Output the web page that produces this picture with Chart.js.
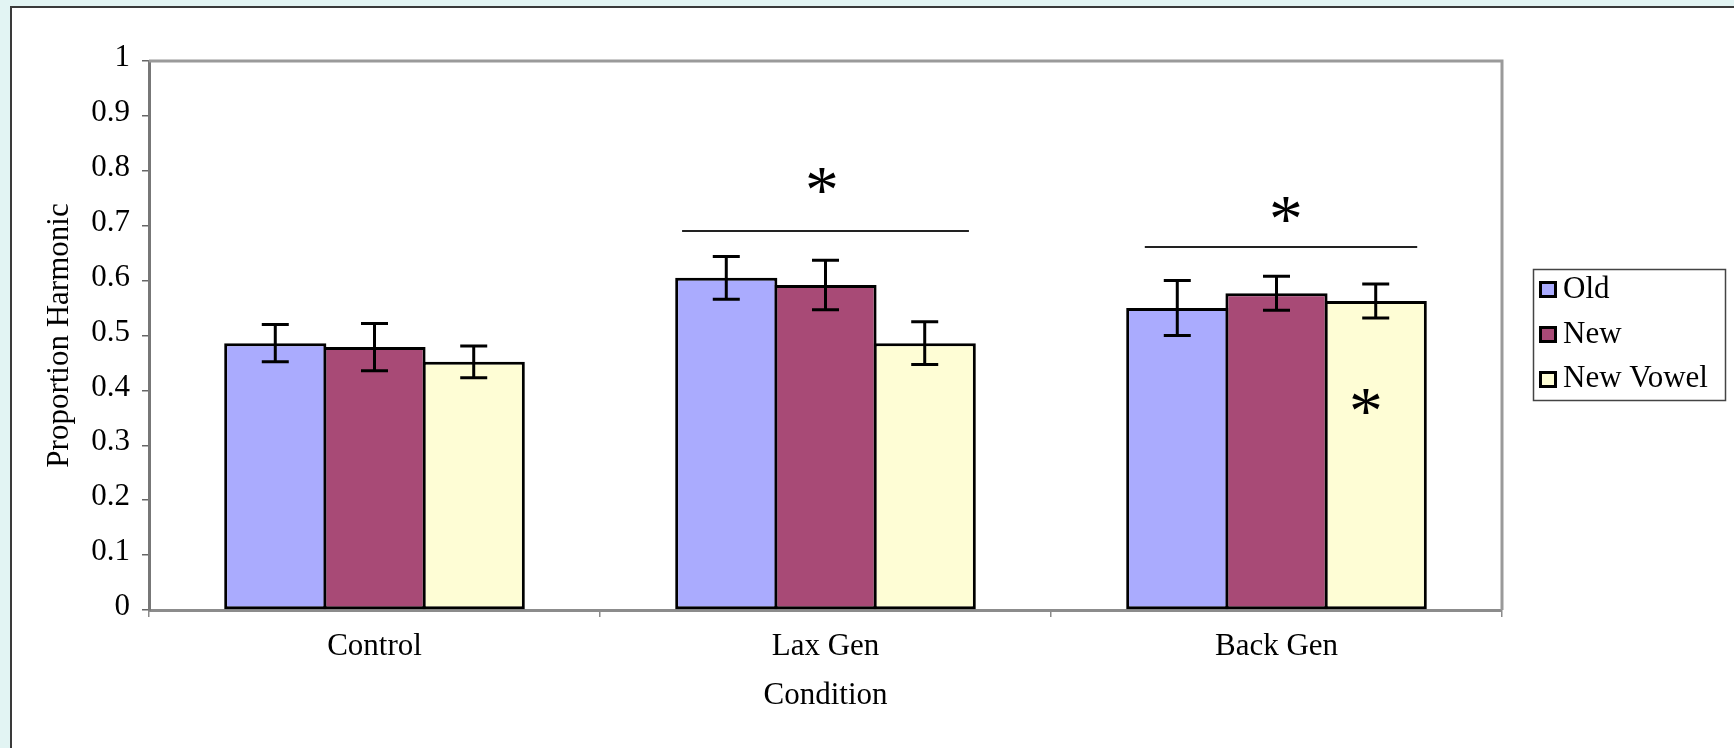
<!DOCTYPE html>
<html><head><meta charset="utf-8">
<script src="https://cdn.jsdelivr.net/npm/chart.js@4/dist/chart.umd.min.js"></script>
<style>
html,body{margin:0;padding:0;width:1734px;height:748px;overflow:hidden;background:#e2f4f3;}
#panel{position:absolute;left:10px;top:6px;width:1800px;height:800px;background:#fff;border-left:2px solid #3a3a3a;border-top:2px solid #3a3a3a;}
#wrap{position:absolute;left:0;top:0;width:1734px;height:748px;}
</style></head><body>
<div id="panel"></div>
<div id="wrap"><canvas id="c" width="1734" height="748"></canvas></div>
<script>
// ---- data ----
const categories = ['Control', 'Lax Gen', 'Back Gen'];
const seriesNames = ['Old', 'New', 'New Vowel'];
const oldValues = [0.486, 0.605, 0.550];
const newValues = [0.479, 0.592, 0.577];
const newVowelValues = [0.452, 0.486, 0.563];
const oldErrors = [0.034, 0.039, 0.050];
const newErrors = [0.043, 0.045, 0.031];
const newVowelErrors = [0.029, 0.039, 0.031];
const yTickLabels = ['0', '0.1', '0.2', '0.3', '0.4', '0.5', '0.6', '0.7', '0.8', '0.9', '1'];
const axisTitleX = 'Condition';
const axisTitleY = 'Proportion Harmonic';
// significance marks: category index, span (in category units) and value level
const sigLineCats = [1, 2];
const sigLineFrom = [-0.318, -0.292];
const sigLineTo = [0.318, 0.312];
const sigLineValues = [0.690, 0.661];
const starCats = [0.992, 2.021, 2.198];
const starValues = [0.783, 0.729, 0.379];

const errorSets = [oldErrors, newErrors, newVowelErrors];
const FONT = "'Liberation Serif', 'Times New Roman', serif";
const FS = 31;
Chart.defaults.font.family = FONT;
Chart.defaults.font.size = FS;
Chart.defaults.color = '#000';

const framePlugin = {
  id: 'frame',
  beforeDatasetsDraw(chart) {
    const {ctx, chartArea: a} = chart;
    ctx.save();
    ctx.strokeStyle = '#9a9a9a';
    ctx.lineWidth = 3;
    ctx.beginPath();
    ctx.moveTo(a.left, a.top); ctx.lineTo(a.right, a.top); ctx.lineTo(a.right, a.bottom);
    ctx.stroke();
    ctx.restore();
  }
};

const errorBarPlugin = {
  id: 'errorBars',
  afterDatasetsDraw(chart) {
    const {ctx, scales: {y}} = chart;
    ctx.save();
    ctx.strokeStyle = '#000';
    ctx.lineWidth = 3;
    chart.data.datasets.forEach((ds, i) => {
      const meta = chart.getDatasetMeta(i);
      meta.data.forEach((bar, j) => {
        const v = ds.data[j], e = errorSets[i][j];
        const x = bar.x, yt = y.getPixelForValue(v + e), yb = y.getPixelForValue(v - e);
        const hw = 13.5;
        ctx.beginPath();
        ctx.moveTo(x, yt); ctx.lineTo(x, yb);
        ctx.moveTo(x - hw, yt); ctx.lineTo(x + hw, yt);
        ctx.moveTo(x - hw, yb); ctx.lineTo(x + hw, yb);
        ctx.stroke();
      });
    });
    ctx.restore();
  }
};

const annotationPlugin = {
  id: 'sig',
  afterDatasetsDraw(chart) {
    const {ctx, scales: {x, y}} = chart;
    const cw = x.getPixelForValue(1) - x.getPixelForValue(0);
    const catX = c => x.getPixelForValue(0) + c * cw;
    ctx.save();
    ctx.strokeStyle = '#222';
    ctx.lineWidth = 2;
    sigLineCats.forEach((c, i) => {
      const py = Math.round(y.getPixelForValue(sigLineValues[i]));
      ctx.beginPath();
      ctx.moveTo(catX(c + sigLineFrom[i]), py);
      ctx.lineTo(catX(c + sigLineTo[i]), py);
      ctx.stroke();
    });
    ctx.font = '100px ' + FONT;
    const m0 = ctx.measureText('*');
    const h100 = m0.actualBoundingBoxAscent + m0.actualBoundingBoxDescent;
    const size = 25 / h100 * 100;
    ctx.font = size.toFixed(1) + 'px ' + FONT;
    ctx.fillStyle = '#000';
    ctx.textAlign = 'center';
    ctx.textBaseline = 'alphabetic';
    const m = ctx.measureText('*');
    starCats.forEach((c, i) => {
      const cy = y.getPixelForValue(starValues[i]);
      const base = cy + (m.actualBoundingBoxAscent - m.actualBoundingBoxDescent) / 2;
      ctx.fillText('*', catX(c), base);
    });
    ctx.restore();
  }
};

const legendPlugin = {
  id: 'customLegend',
  afterDraw(chart) {
    const {ctx} = chart;
    ctx.save();
    ctx.strokeStyle = '#444';
    ctx.lineWidth = 1.5;
    ctx.strokeRect(1533.5, 269.5, 192, 131);
    ctx.font = FS + 'px ' + FONT;
    ctx.textAlign = 'left';
    ctx.textBaseline = 'alphabetic';
    chart.data.datasets.forEach((ds, i) => {
      const top = 281 + i * 45;
      ctx.fillStyle = '#000';
      ctx.fillRect(1539, top, 18, 17);
      ctx.fillStyle = ds.backgroundColor;
      ctx.fillRect(1542, top + 3, 12, 11);
      ctx.fillStyle = '#000';
      ctx.fillText(ds.label, 1563, 298 + i * 44.5);
    });
    ctx.restore();
  }
};

new Chart(document.getElementById('c'), {
  type: 'bar',
  data: {
    labels: categories,
    datasets: [
      {label: seriesNames[0], data: oldValues, backgroundColor: '#aaabfe'},
      {label: seriesNames[1], data: newValues, backgroundColor: '#a84a76'},
      {label: seriesNames[2], data: newVowelValues, backgroundColor: '#fefdd5'}
    ]
  },
  options: {
    responsive: false,
    animation: false,
    devicePixelRatio: 1,
    layout: {padding: {top: 61, right: 232, bottom: 0, left: 0}},
    datasets: {bar: {categoryPercentage: 0.66, barPercentage: 1.03, borderColor: '#000', borderWidth: 3, borderSkipped: false}},
    plugins: {legend: {display: false}, tooltip: {enabled: false}},
    scales: {
      x: {
        grid: {display: true, drawOnChartArea: false, tickLength: 7, color: '#8a8a8a', lineWidth: 1.5, offset: true},
        border: {display: true, color: '#8c8c8c', width: 3},
        ticks: {padding: 11, color: '#000', font: {size: FS}},
        title: {display: true, text: axisTitleX, color: '#000', font: {size: FS}, padding: {top: 0, bottom: 34}},
        afterFit(s) { s.height = 138; }
      },
      y: {
        min: 0, max: 1,
        ticks: {stepSize: 0.1, padding: 12, labelOffset: -3, color: '#000', font: {size: FS}, callback: (v, i) => yTickLabels[i]},
        grid: {display: true, drawOnChartArea: false, tickLength: 7, color: '#666', lineWidth: 1.5},
        border: {display: true, color: '#777', width: 3},
        title: {display: true, text: axisTitleY, color: '#000', font: {size: FS}, padding: {top: 41, bottom: 0}},
        afterFit(s) { s.width = 149; }
      }
    }
  },
  plugins: [framePlugin, errorBarPlugin, annotationPlugin, legendPlugin]
});
</script>
</body></html>
